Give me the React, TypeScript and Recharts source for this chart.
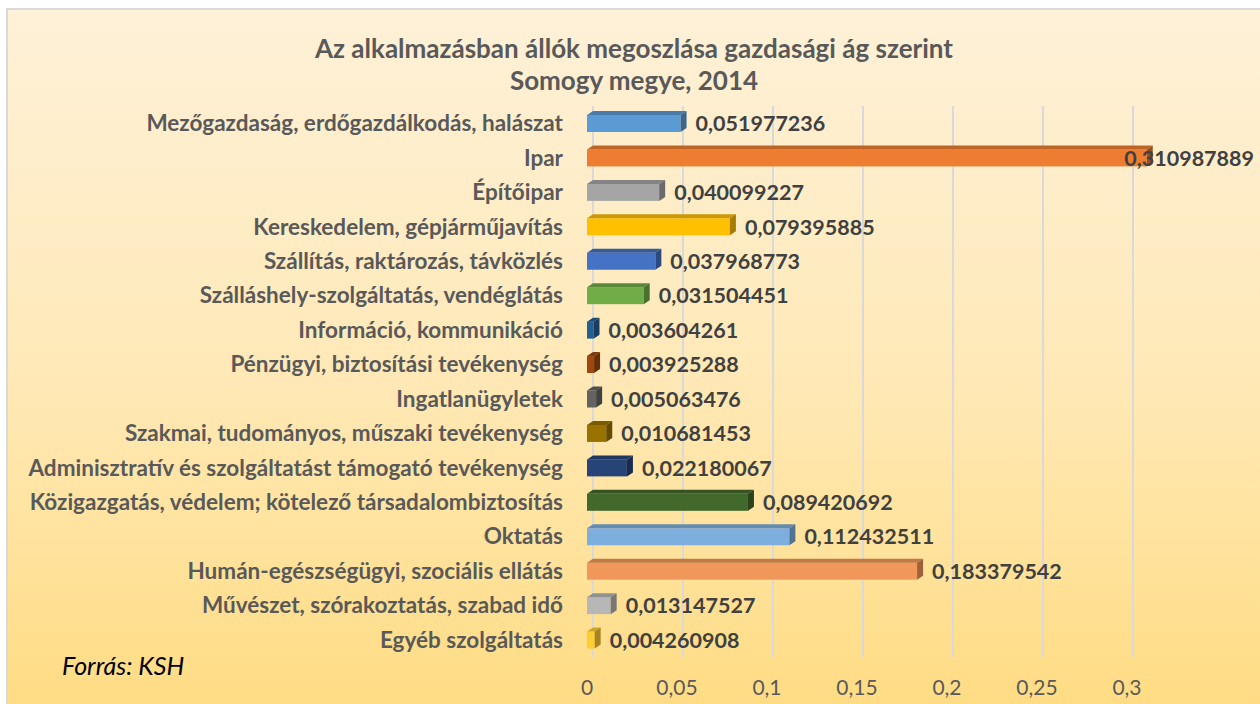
import { BarChart, Bar, XAxis, YAxis, CartesianGrid, LabelList, Cell } from 'recharts'

const CATEGORIES = [
  'Mezőgazdaság, erdőgazdálkodás, halászat',
  'Ipar',
  'Építőipar',
  'Kereskedelem, gépjárműjavítás',
  'Szállítás, raktározás, távközlés',
  'Szálláshely-szolgáltatás, vendéglátás',
  'Információ, kommunikáció',
  'Pénzügyi, biztosítási tevékenység',
  'Ingatlanügyletek',
  'Szakmai, tudományos, műszaki tevékenység',
  'Adminisztratív és szolgáltatást támogató tevékenység',
  'Közigazgatás, védelem; kötelező társadalombiztosítás',
  'Oktatás',
  'Humán-egészségügyi, szociális ellátás',
  'Művészet, szórakoztatás, szabad idő',
  'Egyéb szolgáltatás',
]

const SHARES = [
  0.051977236, 0.310987889, 0.040099227, 0.079395885, 0.037968773, 0.031504451,
  0.003604261, 0.003925288, 0.005063476, 0.010681453, 0.022180067, 0.089420692,
  0.112432511, 0.183379542, 0.013147527, 0.004260908,
]

const COLORS = [
  '#5B9BD5', '#ED7D31', '#A5A5A5', '#FFC000', '#4472C4', '#70AD47',
  '#255E91', '#9E480E', '#636363', '#997300', '#264478', '#43682B',
  '#7CAFDD', '#F1975A', '#B7B7B7', '#FFCD33',
]

const TICKS = [0, 0.05, 0.1, 0.15, 0.2, 0.25, 0.3]
const X_MAX = 0.35

const data = CATEGORIES.map((name, i) => ({ name, value: SHARES[i], color: COLORS[i] }))

const FONT = 'Lato, "Open Sans", sans-serif'
const DX = 6
const DY = 4

function shade(hex: string, f: number) {
  const n = parseInt(hex.slice(1), 16)
  const r = Math.round(((n >> 16) & 255) * f)
  const g = Math.round(((n >> 8) & 255) * f)
  const b = Math.round((n & 255) * f)
  return `rgb(${r},${g},${b})`
}

// fake Excel 3D bar: front + top face + right side
function Bar3D(props: any) {
  const { x, y, width, height, fill } = props
  if (width == null) return null
  const w = Math.max(width, 0)
  return (
    <g>
      <rect x={x} y={y} width={w} height={height} fill={fill} />
      <polygon
        points={`${x},${y} ${x + DX},${y - DY} ${x + w + DX},${y - DY} ${x + w},${y}`}
        fill={shade(fill, 0.8)}
      />
      <polygon
        points={`${x + w},${y} ${x + w + DX},${y - DY} ${x + w + DX},${y + height - DY} ${x + w},${y + height}`}
        fill={shade(fill, 0.65)}
      />
    </g>
  )
}

const fmt = (v: number) => String(v).replace('.', ',')

function ValueLabel(props: any) {
  const { x, y, width, height, value } = props
  let tx = x + width + DX + 9
  let anchor: 'start' | 'end' = 'start'
  // keep the label inside the chart area like Excel does
  if (tx + 132 > 1254) {
    tx = 1254
    anchor = 'end'
  }
  return (
    <text
      x={tx}
      y={y + height / 2}
      dy="0.36em"
      textAnchor={anchor}
      fill="#404040"
      fontFamily={FONT}
      fontWeight={700}
      fontSize={21.5}
    >
      {fmt(value)}
    </text>
  )
}

function gridX(args: any) {
  const sc = args?.xAxis?.scale
  if (typeof sc === 'function') return TICKS.map((t) => sc(t) + DX)
  const { offset } = args
  return TICKS.map((t) => offset.left + (t / X_MAX) * offset.width + DX)
}

export default function App() {
  return (
    <div style={{ position: 'relative', width: 1260, height: 704, overflow: 'hidden', fontFamily: FONT }}>
      <style>{'body{margin:0}'}</style>
      <div
        style={{
          position: 'absolute',
          left: 6,
          top: 8,
          width: 1270,
          height: 710,
          border: '2px solid #d9d9d9',
          background: 'linear-gradient(to bottom, #FEF1D8 0%, #FFE9B8 50%, #FFDC82 100%)',
        }}
      />
      <div
        style={{
          position: 'absolute',
          left: 0,
          width: 1268,
          top: 32,
          textAlign: 'center',
          color: '#595959',
          fontWeight: 700,
          fontSize: 26,
          lineHeight: '32px',
        }}
      >
        Az alkalmazásban állók megoszlása gazdasági ág szerint
        <br />
        Somogy megye, 2014
      </div>
      <div
        style={{
          position: 'absolute',
          left: 62,
          top: 650,
          fontStyle: 'italic',
          fontSize: 25,
          lineHeight: '30px',
          color: '#000',
        }}
      >
        Forrás: KSH
      </div>
      <div style={{ position: 'absolute', left: 0, top: 0 }}>
        <BarChart
          width={1260}
          height={704}
          data={data}
          layout="vertical"
          margin={{ top: 106, right: 43, bottom: 1, left: 0 }}
          barCategoryGap="50%"
        >
          <CartesianGrid horizontal={false} stroke="#d9d9d9" strokeWidth={2} verticalCoordinatesGenerator={gridX} />
          <XAxis
            type="number"
            domain={[0, X_MAX]}
            ticks={TICKS}
            tickFormatter={fmt}
            axisLine={false}
            tickLine={false}
            tickSize={0}
            tickMargin={23}
            height={46}
            tick={{ fill: '#595959', fontSize: 21, fontFamily: FONT }}
          />
          <YAxis
            type="category"
            dataKey="name"
            width={587}
            axisLine={false}
            tickLine={false}
            tickSize={0}
            tickMargin={24}
            interval={0}
            tick={{ fill: '#595959', fontSize: 22.5, fontWeight: 700, fontFamily: FONT }}
          />
          <Bar dataKey="value" isAnimationActive={false} shape={<Bar3D />} barSize={17}>
            {data.map((d, i) => (
              <Cell key={i} fill={d.color} />
            ))}
            <LabelList dataKey="value" content={<ValueLabel />} />
          </Bar>
        </BarChart>
      </div>
    </div>
  )
}
